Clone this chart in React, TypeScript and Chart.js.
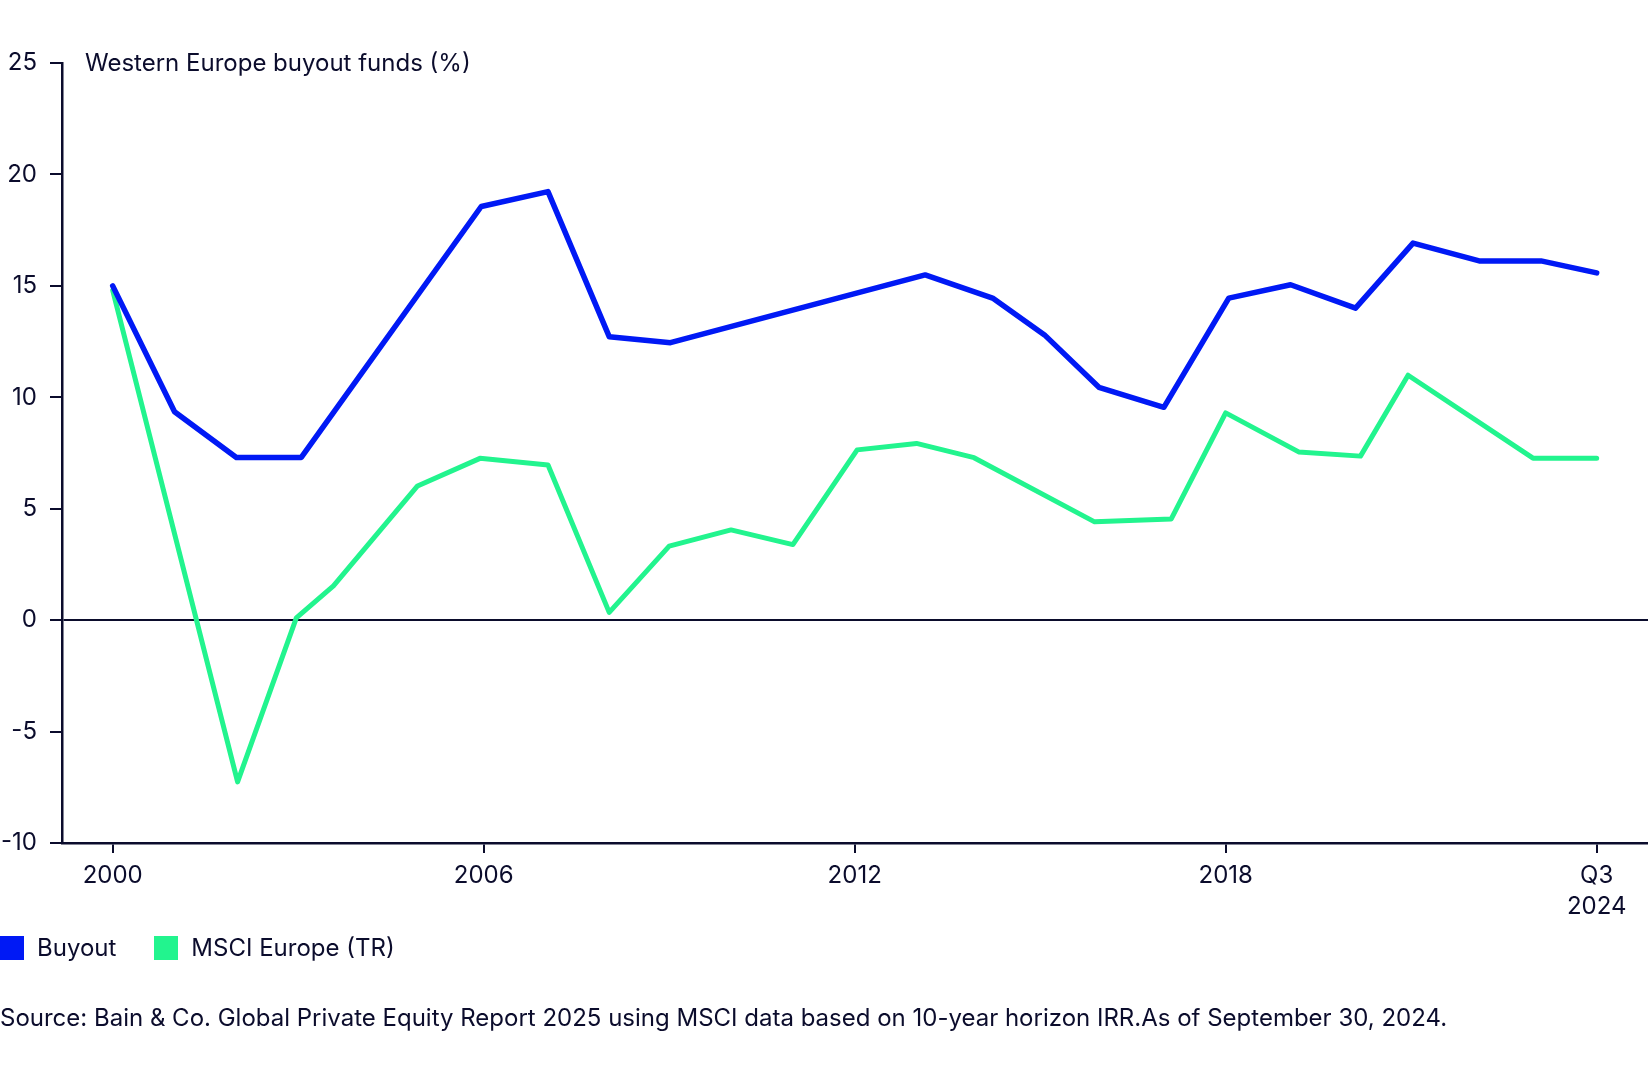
import React, { useEffect, useRef } from "react";
import { Chart, registerables } from "chart.js";

Chart.register(...registerables);

const NAVY = "#0b0c2c";
const BLUE = "#0019f5";
const GREEN = "#22f48e";

const buyoutYears = [2000, 2001, 2002, 2003.05, 2005.96, 2007.04, 2008.03, 2009.02, 2013.14, 2014.23, 2015.07, 2015.95, 2017, 2018.05, 2019.05, 2020.1, 2021.03, 2022.1, 2023.1, 2024];
const buyoutValues = [15.0, 9.35, 7.3, 7.3, 18.56, 19.23, 12.72, 12.45, 15.49, 14.45, 12.8, 10.45, 9.55, 14.45, 15.05, 14.0, 16.92, 16.12, 16.12, 15.58];

const msciYears = [2000, 2002.02, 2002.97, 2003.57, 2004.93, 2005.94, 2007.04, 2008.03, 2009.0, 2010.0, 2011.0, 2012.04, 2013.0, 2013.93, 2015.88, 2017.12, 2018.0, 2019.18, 2020.18, 2020.95, 2022.97, 2024];
const msciValues = [14.8, -7.26, 0.1, 1.54, 6.02, 7.26, 6.96, 0.35, 3.32, 4.05, 3.39, 7.64, 7.93, 7.29, 4.41, 4.54, 9.3, 7.55, 7.36, 10.99, 7.27, 7.27];

const xTickValues = [2000, 2006, 2012, 2018, 2024];
const xTickLabels: (string | string[])[] = ["2000", "2006", "2012", "2018", ["Q3", "2024"]];

const seriesNames = ["Buyout", "MSCI Europe (TR)"];
const yAxisTitle = "Western Europe buyout funds (%)";
const sourceNote =
  "Source: Bain & Co. Global Private Equity Report 2025 using MSCI data based on 10-year horizon IRR.As of September 30, 2024.";

const FONT = "Inter, 'Noto Sans', sans-serif";
const FS = 24;

export default function App() {
  const canvasRef = useRef<HTMLCanvasElement | null>(null);

  useEffect(() => {
    const canvas = canvasRef.current;
    if (!canvas) return;
    Chart.defaults.font.family = FONT;
    Chart.defaults.color = NAVY;
    const chart = new Chart(canvas, {
      type: "line",
      data: {
        datasets: [
          {
            label: seriesNames[0],
            data: buyoutYears.map((x, i) => ({ x, y: buyoutValues[i] })),
            borderColor: BLUE,
            backgroundColor: BLUE,
            borderWidth: 5.5,
            pointRadius: 0,
            tension: 0,
            borderJoinStyle: "round",
            borderCapStyle: "round",
          },
          {
            label: seriesNames[1],
            data: msciYears.map((x, i) => ({ x, y: msciValues[i] })),
            borderColor: GREEN,
            backgroundColor: GREEN,
            borderWidth: 5,
            pointRadius: 0,
            tension: 0,
            borderJoinStyle: "round",
            borderCapStyle: "round",
          },
        ],
      },
      options: {
        animation: false,
        responsive: false,
        devicePixelRatio: 1,
        layout: { padding: { top: 63, bottom: 157, left: 0, right: 0 } },
        plugins: {
          legend: { display: false },
          tooltip: { enabled: false },
          title: { display: false },
        },
        scales: {
          x: {
            type: "linear",
            min: 1999.18,
            max: 2024.83,
            afterFit: (scale: any) => {
              scale.height = 80;
            },
            afterBuildTicks: (scale: any) => {
              scale.ticks = xTickValues.map((v) => ({ value: v }));
            },
            grid: {
              display: true,
              drawOnChartArea: false,
              drawTicks: true,
              tickLength: 10,
              tickColor: NAVY,
              tickWidth: 2,
              lineWidth: 2,
              color: NAVY,
            },
            border: { display: true, color: NAVY, width: 2.5 },
            ticks: {
              autoSkip: false,
              maxRotation: 0,
              padding: 8,
              color: NAVY,
              font: { size: FS, lineHeight: 1.27 },
              callback: (v: any) => {
                const i = xTickValues.indexOf(Number(v));
                return i >= 0 ? xTickLabels[i] : "";
              },
            },
          },
          y: {
            min: -10,
            max: 25,
            afterFit: (scale: any) => {
              scale.width = 62;
            },
            grid: {
              display: true,
              drawOnChartArea: true,
              drawTicks: true,
              tickLength: 12,
              lineWidth: 2,
              tickWidth: 2,
              tickColor: NAVY,
              color: (ctx: any) => (ctx.tick && ctx.tick.value === 0 ? NAVY : "rgba(0,0,0,0)"),
            },
            border: { display: true, color: NAVY, width: 2.5 },
            ticks: {
              stepSize: 5,
              padding: 13,
              color: NAVY,
              font: { size: FS },
            },
          },
        },
      },
    });
    return () => chart.destroy();
  }, []);

  const textStyle: React.CSSProperties = {
    position: "absolute",
    fontFamily: FONT,
    fontSize: FS,
    color: NAVY,
    whiteSpace: "nowrap",
    lineHeight: "28px",
  };

  return (
    <div
      style={{
        position: "absolute",
        left: 0,
        top: 0,
        width: 1648,
        height: 1080,
        background: "#ffffff",
        overflow: "hidden",
      }}
    >
      <canvas ref={canvasRef} width={1648} height={1080} style={{ width: 1648, height: 1080, display: "block" }} />
      <div style={{ ...textStyle, left: 85, top: 49 }}>{yAxisTitle}</div>
      <div style={{ ...textStyle, left: 0, top: 934, display: "flex", alignItems: "center" }}>
        <span style={{ display: "inline-block", width: 24, height: 24, background: BLUE, marginRight: 13 }} />
        <span style={{ marginRight: 38 }}>{seriesNames[0]}</span>
        <span style={{ display: "inline-block", width: 24, height: 24, background: GREEN, marginRight: 13 }} />
        <span>{seriesNames[1]}</span>
      </div>
      <div style={{ ...textStyle, left: 0, top: 1004 }}>{sourceNote}</div>
    </div>
  );
}
